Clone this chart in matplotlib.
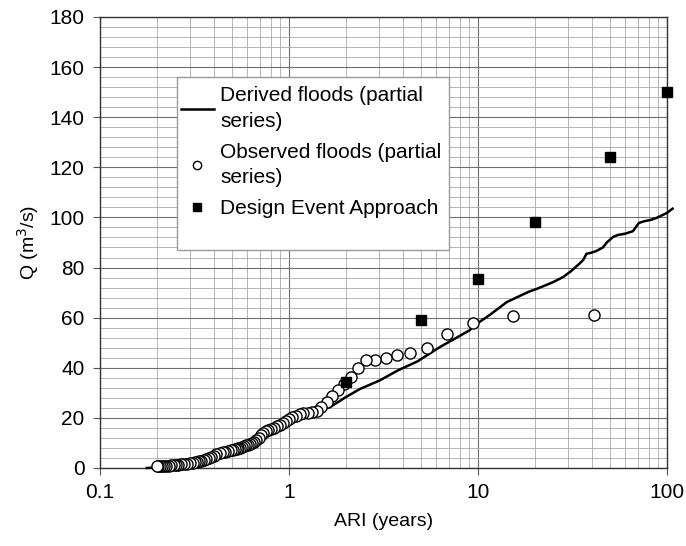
import matplotlib.pyplot as plt
from matplotlib.patches import Rectangle
from matplotlib.ticker import LogLocator, NullFormatter, FixedLocator

plt.rcParams['font.family'] = ['Liberation Sans', 'DejaVu Sans']

# derived floods (partial series) - continuous line
derived_ari = [0.177, 0.2, 0.25, 0.3, 0.35, 0.4, 0.45, 0.5, 0.6, 0.7, 0.8, 0.9, 1.0,
               1.2, 1.4, 1.65, 2.0, 2.37, 3.03, 3.78, 4.77, 6.3, 9.05, 9.4, 11.5,
               14.2, 17, 18.8, 20.5, 22.9, 25, 28.2, 31, 34.7, 36, 37.5, 39.2, 42,
               45.8, 48, 51.8, 55, 60, 66, 71, 76, 82, 88, 95, 100, 107]
derived_q = [0, 0.2, 0.6, 1.5, 2.8, 4.2, 5.5, 6.8, 8.8, 11.5, 14.3, 16.5, 18.5,
             21, 22.5, 24.3, 28.3, 31.5, 35, 39, 42.5, 48.3, 55, 56.5, 61,
             66.2, 69, 70.5, 71.5, 73, 74.2, 76.2, 78.5, 81.8, 83, 85.5, 85.8, 86.5,
             88, 90, 92.2, 93, 93.5, 94.5, 97.8, 98.5, 99, 99.8, 101, 101.8, 103.5]

# observed floods (partial series), ranked largest first
obs_ari = [41.0, 15.4, 9.46, 6.83, 5.35, 4.39, 3.73, 3.24, 2.86, 2.56,
           2.32, 2.12, 1.95, 1.81, 1.68, 1.58, 1.48, 1.40, 1.32, 1.26,
           1.19, 1.14, 1.09, 1.04, 1.00, 0.961, 0.925, 0.891, 0.860, 0.831,
           0.804, 0.778, 0.754, 0.732, 0.711, 0.691, 0.672, 0.654, 0.637, 0.621,
           0.606, 0.591, 0.577, 0.564, 0.551, 0.539, 0.528, 0.517, 0.506, 0.496,
           0.478, 0.461, 0.445, 0.430, 0.413, 0.399, 0.387, 0.375, 0.363, 0.353,
           0.343, 0.334, 0.325, 0.317, 0.309, 0.298, 0.288, 0.278, 0.269, 0.260,
           0.252, 0.245, 0.237, 0.231, 0.224, 0.218, 0.213, 0.208, 0.202, 0.200]
obs_q = [61.0, 60.7, 58.0, 53.3, 48.0, 46.0, 45.0, 43.8, 43.2, 43.0,
         40.0, 36.3, 33.5, 31.0, 28.7, 26.3, 24.2, 22.6, 22.3, 22.1,
         21.8, 21.4, 20.8, 20.2, 19.6, 18.8, 18.0, 17.3, 16.6, 16.0,
         15.6, 15.2, 14.6, 14.0, 13.2, 12.0, 11.0, 10.2, 9.8, 9.5,
         9.2, 9.0, 8.7, 8.4, 8.1, 7.9, 7.7, 7.4, 7.2, 7.0,
         6.7, 6.5, 6.2, 5.9, 5.5, 4.8, 4.3, 3.9, 3.5, 3.2,
         2.9, 2.7, 2.5, 2.3, 2.1, 1.9, 1.7, 1.5, 1.4, 1.3,
         1.2, 1.1, 1.0, 0.9, 0.8, 0.8, 0.7, 0.7, 0.6, 0.6]

# design event approach
design_ari = [2, 5, 10, 20, 50, 100]
design_q = [34.3, 59, 75.4, 98, 124, 150]

fig = plt.figure(figsize=(6.86, 5.46), dpi=100)
ax = fig.add_axes([0.1458, 0.1429, 0.8265, 0.826])

ax.set_xscale('log')
ax.set_xlim(0.1, 100)
ax.set_ylim(0, 180)

# grid
ax.xaxis.set_minor_locator(LogLocator(base=10, subs=range(2, 10)))
ax.xaxis.set_minor_formatter(NullFormatter())
ax.yaxis.set_major_locator(FixedLocator(range(0, 181, 20)))
ax.yaxis.set_minor_locator(FixedLocator(range(0, 181, 4)))
ax.grid(which='major', color='#6e6e6e', lw=0.8)
ax.grid(which='minor', color='#a8a8a8', lw=0.6)
ax.set_axisbelow(True)
ax.tick_params(which='minor', length=0)
ax.tick_params(which='major', direction='out', length=5, width=0.8, color='#555555',
               labelsize=15, pad=6)
ax.set_xticks([0.1, 1, 10, 100])
ax.set_xticklabels(['0.1', '1', '10', '100'])
for s in ax.spines.values():
    s.set_color('#333333')
    s.set_linewidth(1.0)

ax.plot(derived_ari, derived_q, color='black', lw=1.8, zorder=3, clip_on=False)
ax.plot(obs_ari, obs_q, 'o', ms=8, mfc='white', mec='black', mew=1.0, zorder=4, clip_on=False)
ax.plot(design_ari, design_q, 's', ms=7.5, color='black', zorder=5, clip_on=False)

ax.set_xlabel('ARI (years)', fontsize=14, labelpad=8)
ax.set_ylabel('Q (m$^3$/s)', fontsize=14, labelpad=6)

# legend box
ax.add_patch(Rectangle((0.136, 0.483), 0.48, 0.384, transform=ax.transAxes,
                       facecolor='white', edgecolor='#9a9a9a', lw=1.0, zorder=6))
h1, = ax.plot([], [], color='black', lw=1.8)
h2, = ax.plot([], [], 'o', ms=6, mfc='white', mec='black', mew=1.0)
h3, = ax.plot([], [], 's', ms=6, color='black')
leg = ax.legend([h1, h2, h3],
                ['Derived floods (partial\nseries)', 'Observed floods (partial\nseries)',
                 'Design Event Approach'],
                loc='upper left', bbox_to_anchor=(0.142, 0.846), frameon=False,
                fontsize=15, handlelength=1.6, handletextpad=0.3, labelspacing=0.55,
                borderaxespad=0, borderpad=0)
for t in leg.get_texts():
    t.set_linespacing(1.45)
leg.set_zorder(7)

fig.savefig('out.png', dpi=100)
